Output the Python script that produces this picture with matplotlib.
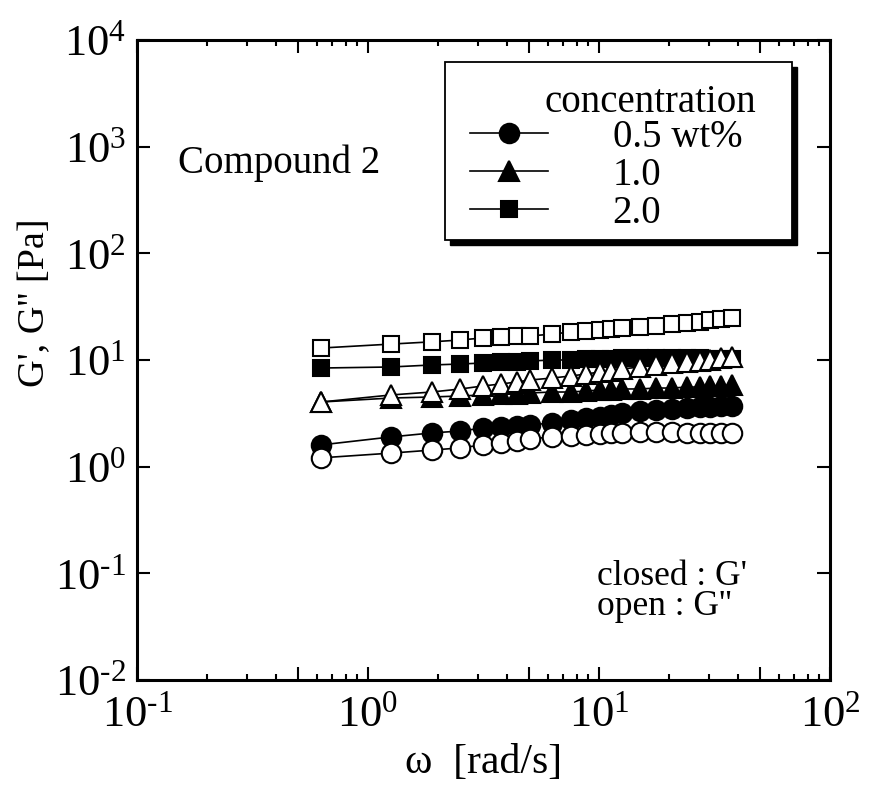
import matplotlib
matplotlib.use("Agg")
import matplotlib.pyplot as plt
from matplotlib.ticker import FixedLocator, NullLocator, FuncFormatter
from matplotlib.patches import Rectangle
import numpy as np

plt.rcParams['font.family'] = ['Liberation Serif', 'DejaVu Serif']
plt.rcParams['mathtext.fontset'] = 'custom'
plt.rcParams['mathtext.rm'] = 'Liberation Serif'
plt.rcParams['mathtext.it'] = 'Liberation Serif:italic'

# ---- data ----
omega = [0.628, 1.257, 1.885, 2.513, 3.142, 3.770, 4.398, 5.027, 6.283, 7.540,
         8.796, 10.05, 11.31, 12.57, 15.08, 17.6, 20.8, 24.0, 27.3, 30.2, 33.8, 37.7]

G1_05 = [1.60, 1.90, 2.07, 2.16, 2.30, 2.35, 2.40, 2.46, 2.57, 2.74, 2.86,
         2.92, 3.05, 3.19, 3.33, 3.40, 3.47, 3.55, 3.59, 3.63, 3.67, 3.71]
G2_05 = [1.21, 1.34, 1.43, 1.50, 1.60, 1.67, 1.74, 1.82, 1.90, 1.94, 1.98,
         2.02, 2.07, 2.09, 2.11, 2.11, 2.11, 2.09, 2.07, 2.07, 2.07, 2.07]
G1_10 = [4.04, 4.40, 4.50, 4.60, 4.70, 4.80, 4.80, 4.91, 5.01, 5.01, 5.12,
         5.23, 5.23, 5.35, 5.35, 5.46, 5.46, 5.58, 5.58, 5.71, 5.71, 5.83]
G2_10 = [4.04, 4.70, 5.01, 5.35, 5.71, 5.96, 6.22, 6.49, 6.78, 7.08, 7.39,
         7.72, 7.89, 8.24, 8.60, 8.98, 9.37, 9.58, 9.79, 10.0, 10.4, 10.7]
G1_20 = [8.41, 8.60, 8.98, 9.17, 9.37, 9.58, 9.58, 9.79, 10.0, 10.0, 10.2,
         10.2, 10.2, 10.44, 10.44, 10.44, 10.44, 10.44, 10.44, 10.3, 10.2, 10.2]
G2_20 = [12.95, 14.1, 14.8, 15.4, 16.1, 16.4, 16.8, 16.8, 17.5, 18.3, 18.7,
         19.1, 19.5, 19.9, 20.4, 20.8, 21.7, 22.2, 22.7, 23.7, 24.2, 24.8]

conc_labels = ['0.5 wt%', '1.0', '2.0']
x_ticks = [0.1, 1, 10, 100]
y_ticks = [1e-2, 1e-1, 1, 10, 100, 1000, 1e4]

W, H = 869, 789
fig = plt.figure(figsize=(W / 100, H / 100), dpi=100)
L, R, T, B = 137, 830, 40, 680
ax = fig.add_axes([L / W, 1 - B / H, (R - L) / W, (B - T) / H])
ax.set_xscale('log')
ax.set_yscale('log')
ax.set_xlim(0.1, 100)
ax.set_ylim(1e-2, 1e4)

lw = 1.2
mew = 1.5
styles = [('o', 14), ('^', 15), ('s', 12)]
closed = [G1_05, G1_10, G1_20]
opened = [G2_05, G2_10, G2_20]
handles = []
for (m, ms), g, lab in zip(styles, closed, conc_labels):
    h, = ax.plot(omega, g, color='k', lw=lw, marker=m, ms=ms, mfc='k', mec='k', mew=mew, label=lab, zorder=3)
    handles.append(h)
for (m, ms), g in zip(styles, opened):
    ax.plot(omega, g, color='k', lw=lw, marker=m, ms=ms, mfc='white', mec='k', mew=mew, zorder=4)

# ticks
decades = [10.0 ** k for k in range(-1, 3)]
fives = [5 * 10.0 ** k for k in range(-1, 2)]
ax.xaxis.set_major_locator(FixedLocator(sorted(decades + fives)))
ax.xaxis.set_minor_locator(FixedLocator([m * 10.0 ** k for k in range(-1, 2) for m in (2, 3, 4, 6, 7, 8, 9)]))
ax.yaxis.set_major_locator(FixedLocator(y_ticks))
ax.yaxis.set_minor_locator(NullLocator())

def fmt(v, pos):
    e = np.log10(v)
    if abs(e - round(e)) > 1e-6:
        return ''
    k = int(round(e))
    return r'$\mathregular{10^{\text{%d}}}$' % k

ax.xaxis.set_major_formatter(FuncFormatter(fmt))
ax.yaxis.set_major_formatter(FuncFormatter(fmt))
ax.tick_params(which='both', direction='in', top=True, right=True, width=1.5, labelsize=32)
ax.tick_params(which='major', length=9.5)
ax.tick_params(which='minor', length=4)
ax.tick_params(axis='x', pad=11)
ax.tick_params(axis='y', pad=8)
for s in ax.spines.values():
    s.set_linewidth(2.2)

ax.set_xlabel('ω  [rad/s]', fontsize=30, labelpad=6)
ax.set_ylabel("G', G'' [Pa]", fontsize=27.5)
ax.yaxis.set_label_coords(-0.123, 0.59)

# annotations
ax.text(178 / W, 1 - 163 / H, 'Compound 2', transform=fig.transFigure, fontsize=28, va='center', ha='left')
ax.text(597 / W, 1 - 585 / H, "closed : G'", transform=fig.transFigure, fontsize=25.5, va='baseline', ha='left')
ax.text(597 / W, 1 - 615 / H, "open : G''", transform=fig.transFigure, fontsize=25.5, va='baseline', ha='left')

# legend box with shadow
bx0, by0, bx1, by1 = 445, 62, 792, 240
sh = 5
fig.patches.append(Rectangle(((bx0 + sh) / W, 1 - (by1 + sh) / H), (bx1 - bx0) / W, (by1 - by0) / H,
                             transform=fig.transFigure, facecolor='k', edgecolor='k', zorder=5))
fig.patches.append(Rectangle((bx0 / W, 1 - by1 / H), (bx1 - bx0) / W, (by1 - by0) / H,
                             transform=fig.transFigure, facecolor='white', edgecolor='k', lw=1.3, zorder=6))
fig.text(545 / W, 1 - 112 / H, 'concentration', fontsize=28, va='baseline', ha='left', zorder=7)
leg = fig.legend(handles=handles, loc='upper left', bbox_to_anchor=(470 / W, 1 - 119 / H),
                 frameon=False, fontsize=28, handlelength=2.0, handletextpad=1.67,
                 labelspacing=0.02, borderpad=0, borderaxespad=0)
leg.set_zorder(8)

fig.savefig('out.png', dpi=100)
